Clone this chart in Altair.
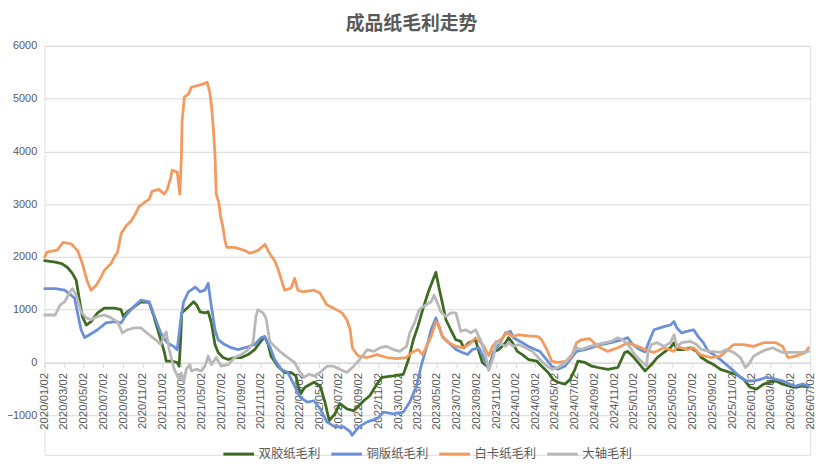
import altair as alt
import pandas as pd

title_text = "成品纸毛利走势"
series_names = ["双胶纸毛利", "铜版纸毛利", "白卡纸毛利", "大轴毛利"]
series_colors = ["#3d6b22", "#6b90d8", "#f39a5e", "#b8b8b8"]

x_tick_labels = [
    "2020/01/02", "2020/03/02", "2020/05/02", "2020/07/02", "2020/09/02", "2020/11/02",
    "2021/01/02", "2021/03/02", "2021/05/02", "2021/07/02", "2021/09/02", "2021/11/02",
    "2022/01/02", "2022/03/02", "2022/05/02", "2022/07/02", "2022/09/02", "2022/11/02",
    "2023/01/02", "2023/03/02", "2023/05/02", "2023/07/02", "2023/09/02", "2023/11/02",
    "2024/01/02", "2024/03/02", "2024/05/02", "2024/07/02", "2024/09/02", "2024/11/02",
    "2025/01/02", "2025/03/02", "2025/05/02", "2025/07/02", "2025/09/02", "2025/11/02",
    "2026/01/02", "2026/03/02", "2026/05/02", "2026/07/02",
]
y_ticks = [-1000, 0, 1000, 2000, 3000, 4000, 5000, 6000]

shuangjiao = [
    ("2020-01-02", 1930), ("2020-02-04", 1900), ("2020-02-24", 1875), ("2020-03-13", 1800),
    ("2020-03-28", 1690), ("2020-04-09", 1555), ("2020-04-19", 1180), ("2020-04-28", 870),
    ("2020-05-10", 710), ("2020-05-25", 775), ("2020-06-14", 940), ("2020-07-05", 1030),
    ("2020-08-05", 1030), ("2020-08-26", 1000), ("2020-09-02", 870), ("2020-09-11", 940),
    ("2020-09-30", 1030), ("2020-10-26", 1150), ("2020-11-21", 1140), ("2020-12-06", 870),
    ("2020-12-21", 550), ("2021-01-07", 200), ("2021-01-13", 25), ("2021-01-31", 25),
    ("2021-02-16", 0), ("2021-02-22", -70), ("2021-02-27", 490), ("2021-03-02", 940),
    ("2021-03-13", 1000), ("2021-03-23", 1055), ("2021-04-08", 1150), ("2021-04-17", 1090),
    ("2021-04-28", 960), ("2021-05-13", 940), ("2021-05-23", 960), ("2021-06-02", 750),
    ("2021-06-13", 340), ("2021-06-23", 190), ("2021-07-08", 94), ("2021-07-24", 56),
    ("2021-08-13", 94), ("2021-09-03", 94), ("2021-09-24", 150), ("2021-10-14", 245),
    ("2021-10-30", 375), ("2021-11-14", 490), ("2021-11-25", 340), ("2021-12-04", 120),
    ("2021-12-25", -70), ("2022-01-15", -190), ("2022-02-04", -190), ("2022-02-19", -255),
    ("2022-03-04", -600), ("2022-03-19", -470), ("2022-04-16", -375), ("2022-05-05", -445),
    ("2022-05-20", -750), ("2022-06-02", -1100), ("2022-06-20", -975), ("2022-07-05", -780),
    ("2022-07-27", -880), ("2022-08-17", -915), ("2022-09-02", -820), ("2022-09-17", -725),
    ("2022-10-06", -630), ("2022-10-28", -410), ("2022-11-13", -280), ("2022-12-18", -255),
    ("2023-01-18", -225), ("2023-02-03", 56), ("2023-02-18", 430), ("2023-03-04", 680),
    ("2023-03-19", 1000), ("2023-04-04", 1310), ("2023-04-19", 1555), ("2023-04-29", 1710),
    ("2023-05-08", 1430), ("2023-05-19", 1125), ("2023-05-30", 810), ("2023-06-14", 620),
    ("2023-06-30", 430), ("2023-07-15", 400), ("2023-07-24", 280), ("2023-08-09", 375),
    ("2023-08-30", 430), ("2023-09-09", 210), ("2023-09-20", 0), ("2023-10-10", -100),
    ("2023-10-25", 200), ("2023-11-10", 245), ("2023-12-01", 375), ("2023-12-10", 470),
    ("2023-12-22", 375), ("2024-01-06", 210), ("2024-01-22", 150), ("2024-02-10", 56),
    ("2024-03-07", 25), ("2024-03-22", -70), ("2024-04-11", -190), ("2024-04-26", -320),
    ("2024-05-11", -375), ("2024-06-02", -410), ("2024-06-18", -320), ("2024-07-03", -130),
    ("2024-07-12", 25), ("2024-08-03", 0), ("2024-08-24", -70), ("2024-09-12", -95),
    ("2024-10-13", -130), ("2024-11-13", -95), ("2024-12-04", 190), ("2024-12-14", 210),
    ("2024-12-29", 120), ("2025-01-20", -40), ("2025-02-05", -160), ("2025-02-25", -40),
    ("2025-03-15", 94), ("2025-04-05", 190), ("2025-04-25", 280), ("2025-05-06", 375),
    ("2025-05-15", 245), ("2025-06-06", 245), ("2025-06-26", 280), ("2025-07-15", 210),
    ("2025-07-30", 94), ("2025-08-16", 25), ("2025-09-06", -40), ("2025-09-27", -130),
    ("2025-10-27", -190), ("2025-11-16", -225), ("2025-12-08", -320), ("2025-12-28", -470),
    ("2026-01-17", -505), ("2026-02-08", -410), ("2026-02-28", -375), ("2026-03-18", -350),
    ("2026-04-08", -410), ("2026-04-29", -445), ("2026-05-18", -470), ("2026-06-09", -445),
    ("2026-06-24", -470),
]

tongban = [
    ("2020-01-02", 1400), ("2020-02-04", 1400), ("2020-03-04", 1370), ("2020-03-24", 1275),
    ("2020-04-04", 1220), ("2020-04-13", 940), ("2020-04-24", 620), ("2020-05-05", 470),
    ("2020-05-20", 525), ("2020-06-14", 620), ("2020-07-10", 750), ("2020-08-05", 775),
    ("2020-08-26", 750), ("2020-09-11", 900), ("2020-09-30", 1030), ("2020-10-26", 1180),
    ("2020-11-21", 1150), ("2020-12-09", 850), ("2020-12-27", 560), ("2021-01-16", 375),
    ("2021-02-06", 300), ("2021-02-16", 240), ("2021-02-27", 810), ("2021-03-08", 1150),
    ("2021-03-23", 1340), ("2021-04-13", 1430), ("2021-04-28", 1340), ("2021-05-13", 1370),
    ("2021-05-23", 1500), ("2021-06-02", 1055), ("2021-06-13", 620), ("2021-06-23", 430),
    ("2021-07-13", 340), ("2021-08-02", 280), ("2021-08-24", 245), ("2021-09-14", 280),
    ("2021-10-14", 340), ("2021-11-03", 470), ("2021-11-14", 490), ("2021-11-30", 305),
    ("2021-12-15", 56), ("2022-01-04", -130), ("2022-01-25", -190), ("2022-02-15", -445),
    ("2022-03-04", -655), ("2022-03-26", -750), ("2022-04-16", -725), ("2022-05-05", -880),
    ("2022-05-26", -1125), ("2022-06-20", -1220), ("2022-07-17", -1220), ("2022-08-06", -1310),
    ("2022-08-12", -1380), ("2022-09-02", -1220), ("2022-09-28", -1125), ("2022-10-28", -1070),
    ("2022-11-18", -940), ("2022-12-18", -975), ("2023-01-18", -940), ("2023-02-07", -750),
    ("2023-02-28", -445), ("2023-03-14", -70), ("2023-03-23", 120), ("2023-04-04", 375),
    ("2023-04-14", 620), ("2023-04-29", 845), ("2023-05-08", 680), ("2023-05-19", 490),
    ("2023-06-08", 375), ("2023-06-30", 245), ("2023-07-20", 190), ("2023-08-05", 150),
    ("2023-08-20", 245), ("2023-09-09", 280), ("2023-09-24", 94), ("2023-10-10", -130),
    ("2023-10-25", 200), ("2023-11-10", 340), ("2023-12-01", 560), ("2023-12-16", 590),
    ("2023-12-25", 470), ("2024-01-22", 375), ("2024-02-10", 305), ("2024-03-02", 245),
    ("2024-03-16", 210), ("2024-04-01", 94), ("2024-04-22", -70), ("2024-05-11", -130),
    ("2024-06-02", -70), ("2024-06-23", 94), ("2024-07-08", 210), ("2024-08-03", 245),
    ("2024-08-24", 280), ("2024-09-22", 340), ("2024-10-23", 375), ("2024-11-24", 430),
    ("2024-12-14", 470), ("2024-12-29", 340), ("2025-01-20", 245), ("2025-02-05", 200),
    ("2025-02-20", 430), ("2025-03-05", 620), ("2025-04-05", 680), ("2025-04-25", 710),
    ("2025-05-06", 775), ("2025-05-15", 655), ("2025-05-30", 560), ("2025-06-15", 590),
    ("2025-07-06", 620), ("2025-07-20", 490), ("2025-08-05", 375), ("2025-08-20", 210),
    ("2025-09-06", 150), ("2025-09-27", 56), ("2025-10-15", -40), ("2025-11-07", -160),
    ("2025-11-28", -280), ("2025-12-17", -350), ("2026-01-08", -350), ("2026-01-28", -320),
    ("2026-02-17", -280), ("2026-03-18", -320), ("2026-04-08", -350), ("2026-04-29", -410),
    ("2026-05-18", -445), ("2026-06-09", -410), ("2026-06-27", -445),
]

baika = [
    ("2020-01-02", 2000), ("2020-01-09", 2090), ("2020-01-25", 2110), ("2020-02-10", 2130),
    ("2020-02-28", 2275), ("2020-03-24", 2250), ("2020-04-13", 2120), ("2020-04-28", 1875),
    ("2020-05-14", 1520), ("2020-05-25", 1370), ("2020-06-10", 1465), ("2020-06-25", 1620),
    ("2020-07-05", 1745), ("2020-07-26", 1875), ("2020-08-05", 2000), ("2020-08-15", 2090),
    ("2020-08-26", 2440), ("2020-09-11", 2590), ("2020-09-26", 2680), ("2020-10-09", 2810),
    ("2020-10-21", 2960), ("2020-11-21", 3095), ("2020-11-30", 3245), ("2020-12-21", 3280),
    ("2021-01-07", 3190), ("2021-01-16", 3280), ("2021-01-27", 3500), ("2021-01-31", 3640),
    ("2021-02-16", 3610), ("2021-02-24", 3190), ("2021-03-01", 3900), ("2021-03-03", 4560),
    ("2021-03-10", 5030), ("2021-03-23", 5090), ("2021-04-01", 5215), ("2021-04-23", 5250),
    ("2021-05-08", 5280), ("2021-05-20", 5310), ("2021-05-28", 5120), ("2021-06-02", 4880),
    ("2021-06-08", 4430), ("2021-06-13", 3940), ("2021-06-17", 3190), ("2021-06-25", 3030),
    ("2021-07-01", 2750), ("2021-07-08", 2560), ("2021-07-14", 2310), ("2021-07-20", 2180),
    ("2021-08-13", 2180), ("2021-09-14", 2120), ("2021-09-29", 2070), ("2021-10-24", 2120),
    ("2021-11-15", 2240), ("2021-11-30", 2060), ("2021-12-15", 1930), ("2021-12-25", 1780),
    ("2022-01-15", 1370), ("2022-02-04", 1410), ("2022-02-15", 1595), ("2022-02-25", 1370),
    ("2022-03-11", 1340), ("2022-04-16", 1370), ("2022-05-05", 1310), ("2022-05-26", 1090),
    ("2022-06-16", 1030), ("2022-07-12", 940), ("2022-07-27", 810), ("2022-08-06", 620),
    ("2022-08-13", 280), ("2022-08-27", 150), ("2022-09-02", 120), ("2022-09-28", 94),
    ("2022-10-28", 150), ("2022-11-28", 94), ("2022-12-28", 75), ("2023-01-28", 94),
    ("2023-02-13", 190), ("2023-03-04", 245), ("2023-03-19", 150), ("2023-03-29", 280),
    ("2023-04-14", 490), ("2023-04-29", 775), ("2023-05-08", 710), ("2023-05-19", 490),
    ("2023-06-08", 375), ("2023-06-30", 305), ("2023-07-20", 280), ("2023-08-09", 340),
    ("2023-08-30", 470), ("2023-09-20", 350), ("2023-10-10", 130), ("2023-10-21", 300),
    ("2023-10-31", 375), ("2023-11-16", 430), ("2023-12-06", 570), ("2023-12-22", 490),
    ("2024-01-10", 525), ("2024-02-10", 505), ("2024-03-11", 490), ("2024-03-22", 430),
    ("2024-04-07", 245), ("2024-04-22", 25), ("2024-05-11", 0), ("2024-06-08", 25),
    ("2024-06-23", 120), ("2024-07-08", 375), ("2024-07-23", 430), ("2024-08-18", 450),
    ("2024-09-12", 305), ("2024-10-13", 210), ("2024-11-13", 280), ("2024-12-14", 375),
    ("2025-01-14", 305), ("2025-02-05", 245), ("2025-03-05", 190), ("2025-04-05", 280),
    ("2025-05-06", 210), ("2025-05-15", 305), ("2025-06-15", 245), ("2025-07-06", 280),
    ("2025-07-26", 150), ("2025-08-27", 94), ("2025-09-27", 120), ("2025-11-07", 340),
    ("2025-12-08", 340), ("2026-01-08", 305), ("2026-02-08", 375), ("2026-03-18", 375),
    ("2026-04-08", 305), ("2026-04-24", 94), ("2026-05-18", 120), ("2026-06-18", 190),
    ("2026-06-27", 280),
]

dazhou = [
    ("2020-01-02", 900), ("2020-02-04", 900), ("2020-02-19", 1090), ("2020-03-04", 1150),
    ("2020-03-24", 1370), ("2020-03-28", 1400), ("2020-04-09", 1275), ("2020-04-24", 960),
    ("2020-05-10", 845), ("2020-05-25", 810), ("2020-06-14", 870), ("2020-07-05", 900),
    ("2020-07-26", 845), ("2020-08-15", 775), ("2020-08-30", 560), ("2020-09-15", 620),
    ("2020-10-06", 655), ("2020-10-26", 655), ("2020-11-21", 525), ("2020-12-11", 430),
    ("2020-12-27", 340), ("2021-01-07", 520), ("2021-01-13", 580), ("2021-01-22", 245),
    ("2021-02-07", -130), ("2021-02-22", -320), ("2021-03-01", -200), ("2021-03-08", -380),
    ("2021-03-16", -130), ("2021-03-27", -40), ("2021-04-01", -160), ("2021-04-17", -130),
    ("2021-05-02", -160), ("2021-05-13", -70), ("2021-05-23", 120), ("2021-06-02", -40),
    ("2021-06-17", 94), ("2021-07-02", -70), ("2021-07-24", -40), ("2021-08-13", 94),
    ("2021-09-03", 150), ("2021-09-24", 245), ("2021-10-09", 375), ("2021-10-18", 870),
    ("2021-10-24", 1000), ("2021-11-09", 940), ("2021-11-18", 845), ("2021-11-30", 400),
    ("2021-12-15", 305), ("2022-01-04", 190), ("2022-01-25", 94), ("2022-02-15", 0),
    ("2022-03-01", -160), ("2022-03-16", -280), ("2022-04-01", -225), ("2022-04-16", -255),
    ("2022-05-05", -190), ("2022-05-26", -70), ("2022-06-16", -70), ("2022-07-05", -130),
    ("2022-07-27", -190), ("2022-08-17", -70), ("2022-09-05", 56), ("2022-09-28", 245),
    ("2022-10-18", 210), ("2022-11-07", 280), ("2022-11-28", 305), ("2022-12-18", 245),
    ("2023-01-07", 210), ("2023-01-28", 305), ("2023-02-07", 560), ("2023-02-23", 775),
    ("2023-03-08", 1000), ("2023-03-29", 1090), ("2023-04-14", 1150), ("2023-04-23", 1275),
    ("2023-05-04", 1125), ("2023-05-14", 960), ("2023-05-30", 870), ("2023-06-14", 940),
    ("2023-06-30", 940), ("2023-07-15", 590), ("2023-07-30", 620), ("2023-08-15", 560),
    ("2023-08-30", 620), ("2023-09-14", 430), ("2023-09-29", 150), ("2023-10-10", -150),
    ("2023-10-25", 120), ("2023-11-01", 400), ("2023-12-01", 305), ("2023-12-10", 375),
    ("2023-12-25", 305), ("2024-01-10", 340), ("2024-02-01", 280), ("2024-02-22", 210),
    ("2024-03-11", 94), ("2024-04-01", -40), ("2024-04-22", -130), ("2024-05-11", -95),
    ("2024-06-02", 0), ("2024-06-23", 150), ("2024-07-08", 280), ("2024-07-23", 245),
    ("2024-08-18", 305), ("2024-09-08", 340), ("2024-10-04", 375), ("2024-10-23", 400),
    ("2024-11-13", 470), ("2024-11-28", 430), ("2024-12-19", 305), ("2025-01-04", 150),
    ("2025-01-25", 25), ("2025-02-10", -70), ("2025-02-14", 190), ("2025-02-25", 340),
    ("2025-03-15", 375), ("2025-04-05", 305), ("2025-04-25", 375), ("2025-05-06", 525),
    ("2025-05-15", 305), ("2025-05-30", 375), ("2025-06-26", 400), ("2025-07-15", 340),
    ("2025-07-30", 245), ("2025-08-27", 210), ("2025-09-27", 190), ("2025-10-15", 245),
    ("2025-11-07", 190), ("2025-11-28", 94), ("2025-12-13", -95), ("2025-12-23", -40),
    ("2026-01-08", 120), ("2026-01-28", 190), ("2026-02-17", 245), ("2026-03-09", 280),
    ("2026-03-18", 245), ("2026-04-08", 190), ("2026-05-09", 190), ("2026-06-09", 190),
    ("2026-06-27", 210),
]

rows = []
for name, pts in zip(series_names, [shuangjiao, tongban, baika, dazhou]):
    for d, v in pts:
        rows.append({"date": d, "value": v, "series": name})
df = pd.DataFrame(rows)

ymin, ymax = -1750, 6000
W, H = 773, 413
axis_offset = -H * (0 - ymin) / (ymax - ymin)
x_ticks_ms = [int(pd.Timestamp(s.replace("/", "-"), tz="UTC").value // 10**6) for s in x_tick_labels]

label_color = "#595959"
grid_color = "#d9d9d9"
num_font = "Liberation Sans"
cjk_font = "Noto Sans CJK SC"

chart = alt.Chart(df).mark_line(strokeWidth=2.8, strokeJoin="round", strokeCap="round").encode(
    x=alt.X(
        "date:T",
        scale=alt.Scale(type="utc", domain=[x_ticks_ms[0], x_ticks_ms[-1]], nice=False),
        axis=alt.Axis(
            values=x_ticks_ms, format="%Y/%m/%d", labelAngle=-90, labelPadding=5,
            labelFont=num_font, labelFontSize=11.5, labelColor=label_color,
            domainColor=grid_color, tickColor=grid_color, tickSize=5, grid=False,
            offset=axis_offset, title=None, labelOverlap=False, labelFlush=False,
        ),
    ),
    y=alt.Y(
        "value:Q",
        scale=alt.Scale(domain=[ymin, ymax], nice=False, zero=False),
        axis=alt.Axis(
            values=y_ticks, format="d", labelFont=num_font, labelFontSize=11,
            labelColor=label_color, labelPadding=8, ticks=False, domain=False,
            grid=True, gridColor=grid_color, gridWidth=1, title=None,
        ),
    ),
    color=alt.Color(
        "series:N",
        scale=alt.Scale(domain=series_names, range=series_colors),
        legend=alt.Legend(
            orient="none", legendX=179, legendY=395, direction="horizontal", columns=4,
            symbolType="stroke", symbolSize=961, symbolStrokeWidth=3,
            labelFont=cjk_font, labelFontSize=12.5, labelColor=label_color,
            columnPadding=4, labelOffset=3, padding=0, title=None,
        ),
    ),
).properties(
    width=W,
    height=H,
    autosize=alt.AutoSizeParams(type="none"),
    padding={"left": 37, "top": 36, "right": 12, "bottom": 4},
    title=alt.TitleParams(
        text=title_text, font=cjk_font, fontSize=19, fontWeight="bold", color=label_color,
        anchor="middle", frame="group", dx=-16, offset=6,
    ),
).configure_view(strokeWidth=0).configure(background="white")

chart.save("out.html", embed_options={"renderer": "svg", "actions": False})
